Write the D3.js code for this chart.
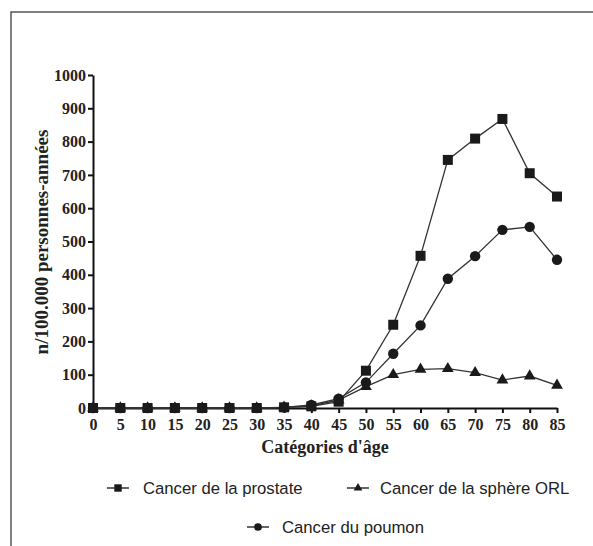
<!DOCTYPE html>
<html>
<head>
<meta charset="utf-8">
<script src="https://cdn.jsdelivr.net/npm/d3@7"></script>
<style>
  body { margin: 0; background: #fff; }
  svg { display: block; }
</style>
</head>
<body>
<svg id="chart" width="593" height="546"></svg>
<script>
// age categories (x) and rates per 100 000 person-years
var ages = [0, 5, 10, 15, 20, 25, 30, 35, 40, 45, 50, 55, 60, 65, 70, 75, 80, 85]
var prostate = [0, 0, 0, 0, 0, 0, 0, 2, 5, 19, 112, 250, 457, 745, 809, 868, 705, 635]
var orl = [0, 0, 0, 0, 0, 0, 0, 2, 6, 24, 64, 100, 116, 118, 106, 84, 96, 68]
var poumon = [0, 0, 0, 0, 0, 0, 0, 2, 9, 28, 77, 163, 248, 388, 456, 535, 544, 445]
var yTicks = [0, 100, 200, 300, 400, 500, 600, 700, 800, 900, 1000]

var series = [
    { name: "Cancer de la prostate", values: prostate, shape: d3.symbolSquare },
    { name: "Cancer de la sphère ORL", values: orl, shape: d3.symbolTriangle },
    { name: "Cancer du poumon", values: poumon, shape: d3.symbolCircle }
]

var svg = d3.select("#chart")

// frame round the figure (runs off the right/bottom edge)
svg.append("rect")
    .attr("x", 11).attr("y", 12)
    .attr("width", 600).attr("height", 560)
    .attr("fill", "none").attr("stroke", "#555").attr("stroke-width", 1.5)

var x = d3.scaleLinear().domain([0, 85]).range([93, 557])
var y = d3.scaleLinear().domain([0, 1000]).range([408, 75])

var serif = "'Liberation Serif', 'Times New Roman', serif"

svg.append("g")
    .attr("transform", "translate(" + x(0) + ",0)")
    .call(d3.axisLeft(y).tickValues(yTicks).tickFormat(d3.format("d"))
        .tickSize(5).tickPadding(2).tickSizeOuter(0))
svg.append("g")
    .attr("transform", "translate(0," + y(0) + ")")
    .call(d3.axisBottom(x).tickValues(ages).tickFormat(d3.format("d"))
        .tickSize(5).tickPadding(6).tickSizeOuter(0))

svg.selectAll(".domain, .tick line").attr("stroke", "#111").attr("stroke-width", 2)
svg.selectAll(".tick text")
    .attr("fill", "#222")
    .style("font-family", serif)
    .style("font-size", "16px")
    .style("font-weight", "bold")

svg.append("text")
    .attr("transform", "translate(48," + 242 + ") rotate(-90)")
    .attr("text-anchor", "middle")
    .attr("fill", "#222")
    .style("font-family", serif).style("font-size", "19px").style("font-weight", "bold")
    .text("n/100.000 personnes-années")

svg.append("text")
    .attr("x", 325).attr("y", 453)
    .attr("text-anchor", "middle")
    .attr("fill", "#222")
    .style("font-family", serif).style("font-size", "18px").style("font-weight", "bold")
    .text("Catégories d'âge")

var line = d3.line()
    .x(function(d, i) { return x(ages[i]) })
    .y(function(d) { return y(d) })

var symSize = { "Cancer de la prostate": 100, "Cancer de la sphère ORL": 60, "Cancer du poumon": 85 }

series.forEach(function(s) {
    svg.append("path")
        .attr("d", line(s.values))
        .attr("fill", "none").attr("stroke", "#333").attr("stroke-width", 1.3)
    svg.selectAll(null)
        .data(s.values)
        .enter().append("path")
        .attr("transform", function(d, i) { return "translate(" + x(ages[i]) + "," + y(d) + ")" })
        .attr("d", d3.symbol().type(s.shape).size(symSize[s.name]))
        .attr("fill", "#1a1a1a")
})

// legend
var legendPos = [
    { lx: 107, ly: 488, tx: 143 },
    { lx: 347, ly: 488, tx: 380 },
    { lx: 247, ly: 527, tx: 282 }
]
series.forEach(function(s, i) {
    var p = legendPos[i]
    var g = svg.append("g").attr("transform", "translate(" + p.lx + "," + p.ly + ")")
    g.append("line").attr("x1", 0).attr("x2", 22).attr("y1", 0).attr("y2", 0)
        .attr("stroke", "#333").attr("stroke-width", 1.5)
    g.append("path").attr("transform", "translate(11,0)")
        .attr("d", d3.symbol().type(s.shape).size(symSize[s.name] * 0.55))
        .attr("fill", "#1a1a1a")
    g.append("text").attr("x", p.tx - p.lx).attr("y", 6)
        .attr("fill", "#222")
        .style("font-family", "'Liberation Sans', Arial, sans-serif")
        .style("font-size", "16.7px")
        .text(s.name)
})
</script>
</body>
</html>
